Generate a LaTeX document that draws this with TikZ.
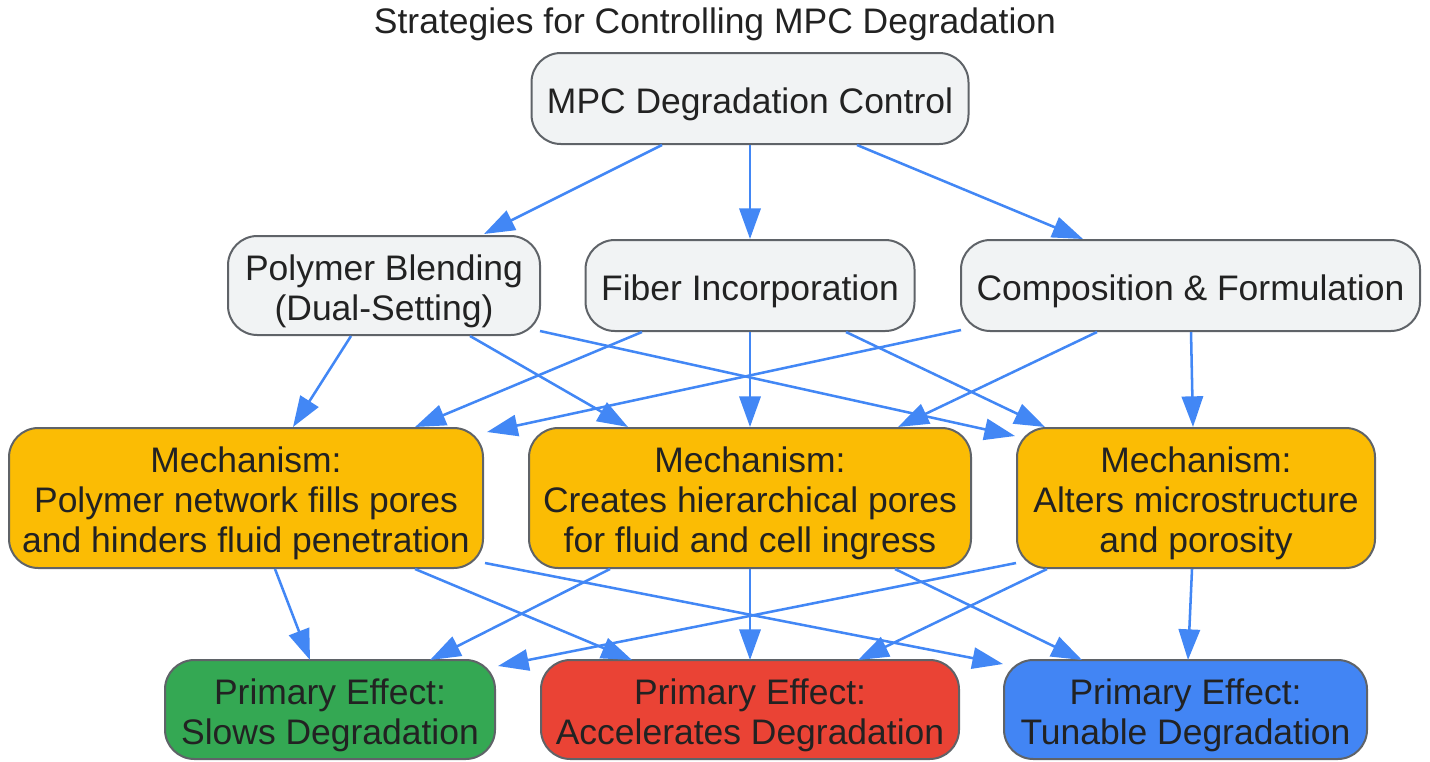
\documentclass[tikz,border=0pt]{standalone}
\usepackage{fontspec}
\setmainfont{Liberation Sans}
\usetikzlibrary{calc,arrows.meta}
\definecolor{txt}{HTML}{222222}
\definecolor{bord}{HTML}{5F6368}
\definecolor{greyfill}{HTML}{F1F3F4}
\definecolor{yel}{HTML}{FBBC04}
\definecolor{grn}{HTML}{34A853}
\definecolor{rd}{HTML}{EA4335}
\definecolor{blu}{HTML}{4285F4}
\definecolor{arr}{HTML}{4287F5}
\newcommand{\topfix}{\rule{0pt}{28pt}}
\begin{document}
\begin{tikzpicture}[x=0.75pt,y=-0.75pt,
  box/.style={draw=bord,line width=1.5pt,rounded corners=22pt,align=center,inner sep=0pt,
    text=txt,font=\fontsize{26.6}{30}\selectfont},
  greybox/.style={box,fill=greyfill},
  mechbox/.style={box,fill=yel,minimum height=105pt},
  effbox/.style={box,minimum height=74.25pt},
  conn/.style={draw=arr,line width=1.9pt,-{Triangle[length=23pt,width=16pt]}}
]
\useasboundingbox (0,0) rectangle (1430,761);
\node[text=txt,font=\fontsize{26.6}{30}\selectfont] (title) at (715,24) {Strategies for Controlling MPC Degradation};

\node[greybox,minimum width=327.75pt,minimum height=68.25pt] (root) at (750,98.5) {\topfix MPC Degradation Control};

\node[greybox,minimum width=234pt,minimum height=74.25pt] (poly) at (384,285.5) {\topfix Polymer Blending\\(Dual-Setting)};
\node[greybox,minimum width=246.75pt,minimum height=68.25pt] (fiber) at (750,285.5) {\topfix Fiber Incorporation};
\node[greybox,minimum width=344.25pt,minimum height=68.25pt] (comp) at (1190.5,285.5) {\topfix Composition \& Formulation};

\node[mechbox,minimum width=355.5pt] (m1) at (246,498) {\topfix Mechanism:\\Polymer network fills pores\\and hinders fluid penetration};
\node[mechbox,minimum width=331.5pt] (m2) at (750,498) {\topfix Mechanism:\\Creates hierarchical pores\\for fluid and cell ingress};
\node[mechbox,minimum width=268.5pt] (m3) at (1196,498) {\topfix Mechanism:\\Alters microstructure\\and porosity};

\node[effbox,fill=grn,minimum width=247.5pt] (e1) at (330,709.5) {\topfix Primary Effect:\\Slows Degradation};
\node[effbox,fill=rd,minimum width=313.5pt] (e2) at (750,709.5) {\topfix Primary Effect:\\Accelerates Degradation};
\node[effbox,fill=blu,minimum width=272.25pt] (e3) at (1185.5,709.5) {\topfix Primary Effect:\\Tunable Degradation};

% root -> strategies
\draw[conn] ($(root)+(-88,46.5)$) -- ($(poly)+(100,-51.5)$);
\draw[conn] ($(root)+(0,46.5)$) -- ($(fiber)+(0,-46.5)$);
\draw[conn] ($(root)+(107,46.5)$) -- ($(comp)+(-107.5,-46.5)$);
% strategies -> mechanisms
\draw[conn] ($(poly)+(-33,50.5)$) -- ($(m1)+(47,-71)$);
\draw[conn] ($(poly)+(86,50.5)$) -- ($(m2)+(-122,-71)$);
\draw[conn] ($(poly)+(156,45.5)$) -- ($(m3)+(-181,-62)$);
\draw[conn] ($(fiber)+(-108,46.5)$) -- ($(m1)+(169,-71)$);
\draw[conn] ($(fiber)+(0,46.5)$) -- ($(m2)+(0,-71)$);
\draw[conn] ($(fiber)+(96,46.5)$) -- ($(m3)+(-151,-71)$);
\draw[conn] ($(comp)+(-229.5,44.5)$) -- ($(m1)+(241,-66)$);
\draw[conn] ($(comp)+(-93.5,46.5)$) -- ($(m2)+(148,-71)$);
\draw[conn] ($(comp)+(0.5,46.5)$) -- ($(m3)+(-3,-71)$);
% mechanisms -> effects
\draw[conn] ($(m1)+(29,71)$) -- ($(e1)+(-20,-49.5)$);
\draw[conn] ($(m1)+(169,71)$) -- ($(e2)+(-118,-49.5)$);
\draw[conn] ($(m1)+(239,65)$) -- ($(e3)+(-182.5,-45.5)$);
\draw[conn] ($(m2)+(-140,71)$) -- ($(e1)+(100,-49.5)$);
\draw[conn] ($(m2)+(0,71)$) -- ($(e2)+(0,-49.5)$);
\draw[conn] ($(m2)+(145,71)$) -- ($(e3)+(-103.5,-49.5)$);
\draw[conn] ($(m3)+(-180,65)$) -- ($(e1)+(168,-43.5)$);
\draw[conn] ($(m3)+(-149,71)$) -- ($(e2)+(108,-49.5)$);
\draw[conn] ($(m3)+(-4,71)$) -- ($(e3)+(2.5,-49.5)$);
\end{tikzpicture}
\end{document}
